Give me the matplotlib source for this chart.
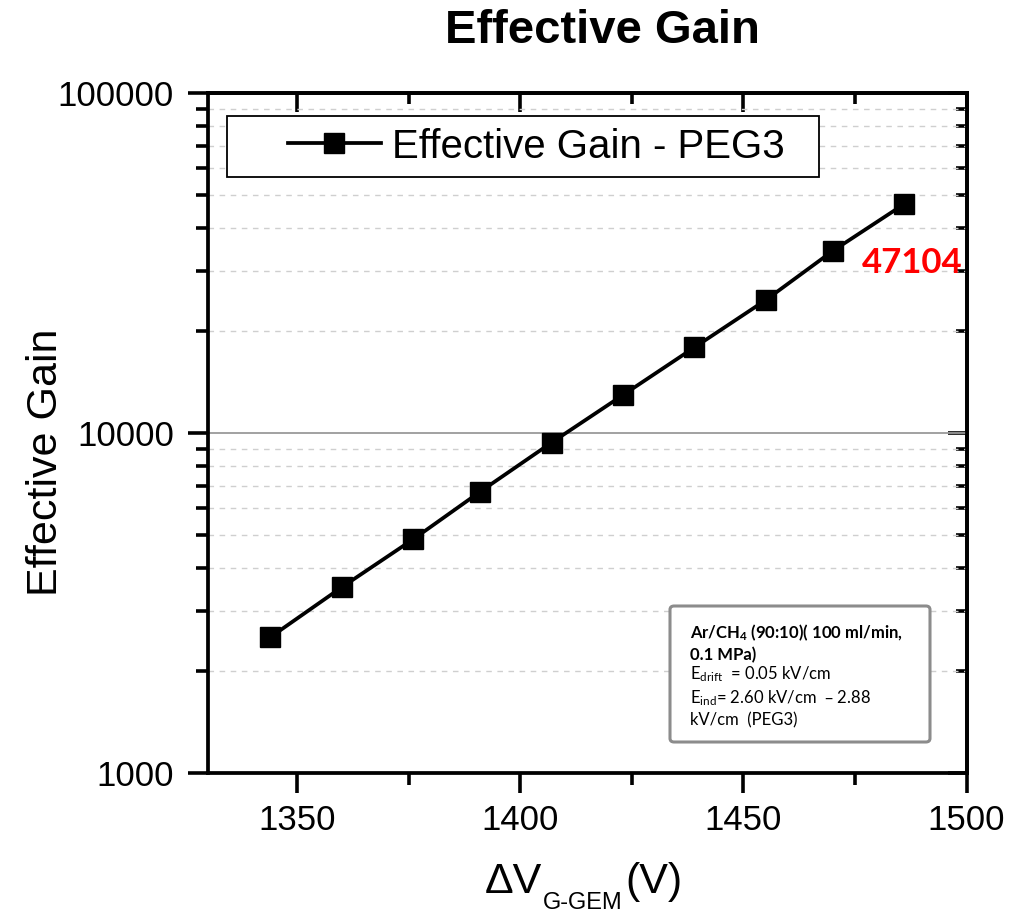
import matplotlib
matplotlib.use('Agg')
import matplotlib.pyplot as plt
from matplotlib.ticker import MultipleLocator, FixedLocator, FixedFormatter, NullFormatter
from matplotlib.patches import Rectangle, FancyBboxPatch

# data
voltage = [1344, 1360, 1376, 1391, 1407, 1423, 1439, 1455, 1470, 1486]
gain = [2510, 3520, 4870, 6720, 9370, 12930, 17850, 24600, 34300, 47104]
series_name = 'Effective Gain - PEG3'
x_ticks = [1350, 1400, 1450, 1500]
y_ticks = [1000, 10000, 100000]
y_minor = [m * d for d in (1000, 10000) for m in range(2, 10)]
note_bold = 'Ar/CH$_4$ (90:10)( 100 ml/min,\n0.1 MPa)'
note_text = 'E$_{drift}$  = 0.05 kV/cm\nE$_{ind}$= 2.60 kV/cm  \u2013 2.88\nkV/cm  (PEG3)'

plt.rcParams['font.family'] = ['Liberation Sans', 'DejaVu Sans']
plt.rcParams['mathtext.default'] = 'regular'

W, H = 1031, 913
fig = plt.figure(figsize=(W / 100, H / 100), dpi=100)

def fx(px):
    return px / W

def fy(py):
    return 1 - py / H

ax = fig.add_axes([fx(208), fy(773), fx(966.5) - fx(208), fy(93) - fy(773)])
ax.plot(voltage, gain, color='black', lw=2.7, marker='s', ms=14,
        label=series_name, zorder=5, clip_on=False)
ax.set_yscale('log')
ax.set_xlim(1330, 1500)
ax.set_ylim(1000, 100000)

# ticks: bottom/left outward with labels
ax.xaxis.set_major_locator(FixedLocator(x_ticks))
ax.xaxis.set_minor_locator(MultipleLocator(25))
ax.yaxis.set_major_locator(FixedLocator(y_ticks))
ax.yaxis.set_major_formatter(FixedFormatter([str(v) for v in y_ticks]))
ax.yaxis.set_minor_locator(FixedLocator(y_minor))
ax.yaxis.set_minor_formatter(NullFormatter())
ax.tick_params(which='major', direction='out', length=14.5, width=2.6, labelsize=25)
ax.tick_params(which='minor', direction='out', length=8.5, width=2.6)
ax.tick_params(axis='y', which='major', pad=10)
ax.tick_params(axis='x', which='major', pad=8)
for s in ax.spines.values():
    s.set_linewidth(2.7)

# grid
ax.yaxis.grid(True, which='major', color='#9a9a9a', lw=1.3)
ax.yaxis.grid(True, which='minor', color='#cfcfcf', lw=1.0, ls=(0, (4, 4)))
ax.set_axisbelow(True)

# top/right inward ticks
top = ax.secondary_xaxis('top')
top.xaxis.set_major_locator(FixedLocator(x_ticks))
top.xaxis.set_minor_locator(MultipleLocator(25))
top.tick_params(which='major', direction='in', length=13.5, width=2.6, labeltop=False)
top.tick_params(which='minor', direction='in', length=8, width=2.6)
right = ax.secondary_yaxis('right')
right.yaxis.set_major_locator(FixedLocator(y_ticks))
right.yaxis.set_minor_locator(FixedLocator(y_minor))
right.yaxis.set_minor_formatter(NullFormatter())
right.tick_params(which='major', direction='in', length=13.5, width=2.6, labelright=False)
right.tick_params(which='minor', direction='in', length=8, width=2.6)
for sec in (top, right):
    for s in sec.spines.values():
        s.set_linewidth(2.7)

# legend with its own frame
ax.add_patch(Rectangle((fx(227), fy(177)), fx(819) - fx(227), fy(116) - fy(177),
                       transform=fig.transFigure, fill=True, fc='white',
                       ec='black', lw=1.3, zorder=6))
leg = ax.legend(loc='center left', bbox_to_anchor=(fx(288), fy(146.5)),
                bbox_transform=fig.transFigure, frameon=False, fontsize=29,
                borderpad=0, borderaxespad=0, handlelength=2.3, handletextpad=0.27)
leg.set_zorder(7)

# value of the last point
ax.text(fx(962), fy(263), '47104', transform=fig.transFigure, color='#ff0000',
        fontsize=25, fontweight='bold', family=['Lato', 'DejaVu Sans'],
        ha='right', va='center', zorder=8)

# conditions box
fig.patches.append(FancyBboxPatch((fx(670), fy(742)), fx(930) - fx(670), fy(606) - fy(742),
                                  boxstyle='round,pad=0,rounding_size=0.004',
                                  transform=fig.transFigure, fc='white',
                                  ec='#8c8c8c', lw=2.2, figure=fig))
fig.text(fx(690), fy(623), note_bold, fontsize=12, fontweight='bold',
         family=['Lato', 'DejaVu Sans'], ha='left', va='top', linespacing=1.3)
fig.text(fx(690), fy(664), note_text, fontsize=12,
         family=['Lato', 'DejaVu Sans'], ha='left', va='top', linespacing=1.3)

# titles
fig.text(fx(602), fy(43), 'Effective Gain', fontsize=34, fontweight='bold',
         ha='center', va='baseline')
fig.text(fx(46), fy(462), 'Effective Gain', fontsize=31, rotation=90,
         ha='center', va='center')

# x label built from pieces: Delta V, subscript, (V)
r = fig.canvas.get_renderer()
t1 = fig.text(fx(485), fy(893), '\u0394V', fontsize=31, ha='left', va='baseline')
x1 = t1.get_window_extent(r).x1
t2 = fig.text(x1 / W + fx(1), fy(909), 'G-GEM', fontsize=17, ha='left', va='baseline')
x2 = t2.get_window_extent(r).x1
fig.text(x2 / W + fx(2), fy(893), '(V)', fontsize=31, ha='left', va='baseline')

fig.savefig('out.png', dpi=100)
